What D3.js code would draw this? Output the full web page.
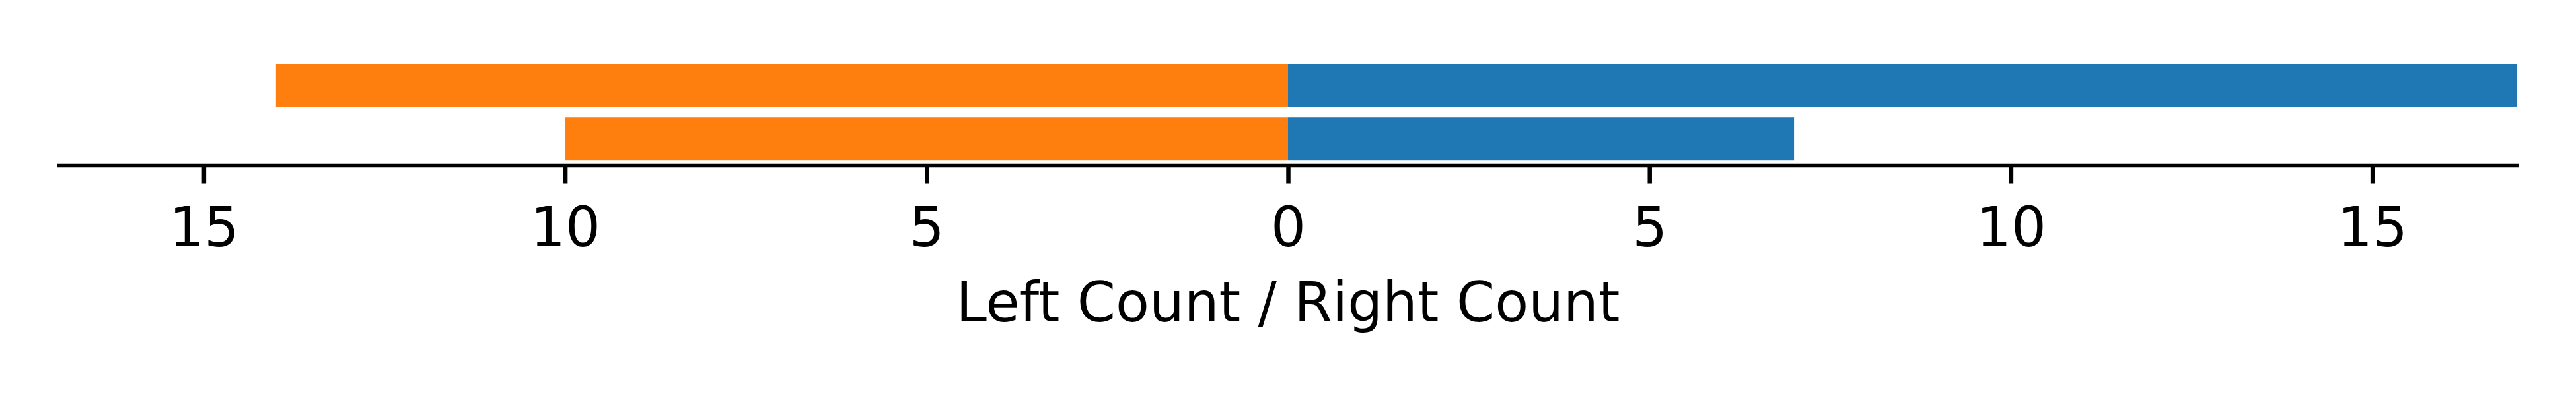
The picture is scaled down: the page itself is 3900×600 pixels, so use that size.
<!DOCTYPE html>
<html>
<head>
<meta charset="utf-8">
<script src="https://cdn.jsdelivr.net/npm/d3@7"></script>
<style>
  html, body { margin: 0; padding: 0; background: #ffffff; }
  svg { display: block; }
</style>
</head>
<body>
<script>
// ---- data ----
const categories = ["Group A", "Group B"];
const leftCounts = [14, 10];
const rightCounts = [17, 7];
const tickValues = [-15, -10, -5, 0, 5, 10, 15];
const xLabel = "Left Count / Right Count";
const leftColor = "#ff7f0e";
const rightColor = "#1f77b4";

// ---- layout ----
const W = 3900, H = 600;
const plotLeft = 89.5, plotRight = 3810.5;
const plotTop = 89.7, plotBottom = 250.5;
const fontFamily = "'DejaVu Sans', sans-serif";
const fontSize = 83.3;

const svg = d3.select("body").append("svg")
  .attr("width", W).attr("height", H)
  .attr("viewBox", `0 0 ${W} ${H}`);

svg.append("rect").attr("width", W).attr("height", H).attr("fill", "#fff");

const x = d3.scaleLinear().domain([-17, 17]).range([plotLeft, plotRight]);
const y = d3.scaleBand().domain(categories).range([plotTop, plotBottom])
  .paddingInner(0.2).paddingOuter(0.09);

// bars
const rows = categories.map((c, i) => ({ c, left: leftCounts[i], right: rightCounts[i] }));

svg.append("g").selectAll("rect.left").data(rows).join("rect")
  .attr("class", "left")
  .attr("x", d => x(-d.left))
  .attr("width", d => x(0) - x(-d.left))
  .attr("y", d => y(d.c))
  .attr("height", y.bandwidth())
  .attr("fill", leftColor);

svg.append("g").selectAll("rect.right").data(rows).join("rect")
  .attr("class", "right")
  .attr("x", x(0))
  .attr("width", d => x(d.right) - x(0))
  .attr("y", d => y(d.c))
  .attr("height", y.bandwidth())
  .attr("fill", rightColor);

// x axis
const axis = d3.axisBottom(x)
  .tickValues(tickValues)
  .tickFormat(d => String(Math.abs(d)))
  .tickSize(28)
  .tickPadding(0)
  .tickSizeOuter(0);

const gx = svg.append("g").attr("transform", `translate(0,${plotBottom})`).call(axis);
gx.select(".domain").remove();
gx.selectAll(".tick line").attr("stroke", "#000").attr("stroke-width", 6.5);
gx.selectAll(".tick text")
  .attr("y", 0).attr("dy", null)
  .attr("transform", "translate(0,122)")
  .attr("fill", "#000")
  .style("font-family", fontFamily)
  .style("font-size", fontSize + "px");

// spine
svg.append("line")
  .attr("x1", x(-17)).attr("x2", x(17))
  .attr("y1", plotBottom).attr("y2", plotBottom)
  .attr("stroke", "#000").attr("stroke-width", 5.6)
  .attr("stroke-linecap", "square");

// x label
svg.append("text")
  .attr("x", x(0)).attr("y", 487)
  .attr("text-anchor", "middle")
  .attr("fill", "#000")
  .style("font-family", fontFamily)
  .style("font-size", fontSize + "px")
  .text(xLabel);
</script>
</body>
</html>
